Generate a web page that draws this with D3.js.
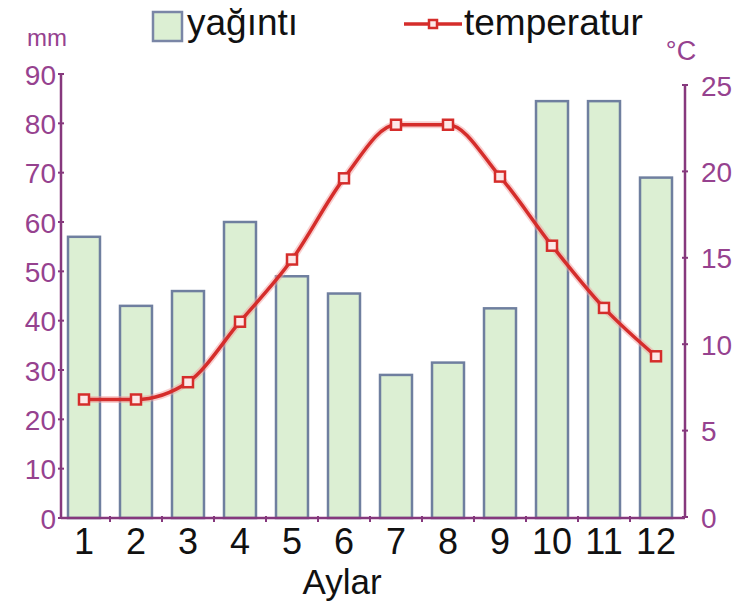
<!DOCTYPE html>
<html>
<head>
<meta charset="utf-8">
<script src="https://cdn.jsdelivr.net/npm/d3@7"></script>
<style>
  body { margin: 0; background: #fff; }
  text { font-family: "Liberation Sans", Arial, sans-serif; }
</style>
</head>
<body>
<div id="chart"></div>
<script>
// months, rainfall (mm) and temperature (°C)
var months = ["1","2","3","4","5","6","7","8","9","10","11","12"];
var rain = [57, 43, 46, 60, 49, 45.5, 29, 31.5, 42.5, 84.5, 84.5, 69];
var temp = [6.8, 6.8, 7.8, 11.3, 14.9, 19.6, 22.7, 22.7, 19.7, 15.7, 12.1, 9.3];
var rainTicks = [0,10,20,30,40,50,60,70,80,90];
var tempTicks = [0,5,10,15,20,25];

var W = 740, H = 607;
var purple = "#86387d", purpleText = "#96428f";

var svg = d3.select("#chart").append("svg")
    .attr("width", W)
    .attr("height", H);

// scales
var x = d3.scaleBand()
    .domain(months)
    .range([68, 672])
    .paddingInner(0.385)
    .paddingOuter(0);
var yRain = d3.scaleLinear().domain([0, 90]).range([518, 74]);
var yTemp = d3.scaleLinear().domain([0, 25]).range([517, 85]);

// bars
svg.append("g").selectAll("rect")
    .data(rain)
    .enter()
    .append("rect")
    .attr("x", (d, i) => x(months[i]))
    .attr("y", d => yRain(d))
    .attr("width", x.bandwidth())
    .attr("height", d => yRain(0) - yRain(d))
    .attr("fill", "#dcefd3")
    .attr("stroke", "#6f7f9f")
    .attr("stroke-width", 2.5);

// left axis
var leftAxis = svg.append("g")
    .attr("transform", "translate(61,0)")
    .call(d3.axisLeft(yRain).tickValues(rainTicks).tickSize(0).tickPadding(5));
leftAxis.select(".domain").remove();
leftAxis.selectAll("text")
    .attr("fill", purpleText)
    .attr("font-size", 28)
    .attr("dy", "0.36em");
svg.append("line")
    .attr("x1", 61).attr("x2", 61)
    .attr("y1", yRain(90)).attr("y2", yRain(0))
    .attr("stroke", purple).attr("stroke-width", 2.5);
svg.append("g").selectAll("line")
    .data(rainTicks)
    .enter()
    .append("line")
    .attr("x1", 58).attr("x2", 64)
    .attr("y1", d => yRain(d)).attr("y2", d => yRain(d))
    .attr("stroke", purple).attr("stroke-width", 2);

// right axis
var rightAxis = svg.append("g")
    .attr("transform", "translate(685,0)")
    .call(d3.axisRight(yTemp).tickValues(tempTicks).tickSize(0).tickPadding(16));
rightAxis.select(".domain").remove();
rightAxis.selectAll("text")
    .attr("fill", purpleText)
    .attr("font-size", 28)
    .attr("dy", "0.36em");
svg.append("line")
    .attr("x1", 685).attr("x2", 685)
    .attr("y1", yTemp(25)).attr("y2", yTemp(0))
    .attr("stroke", purple).attr("stroke-width", 2.5);
svg.append("g").selectAll("line")
    .data(tempTicks)
    .enter()
    .append("line")
    .attr("x1", 682).attr("x2", 688)
    .attr("y1", d => yTemp(d)).attr("y2", d => yTemp(d))
    .attr("stroke", purple).attr("stroke-width", 2);

// bottom axis
svg.append("line")
    .attr("x1", 61).attr("x2", 685)
    .attr("y1", 518).attr("y2", 518)
    .attr("stroke", purple).attr("stroke-width", 2.5);
svg.append("g").selectAll("line")
    .data(months.slice(1))
    .enter()
    .append("line")
    .attr("x1", d => x(d) - x.step() * x.paddingInner() / 2)
    .attr("x2", d => x(d) - x.step() * x.paddingInner() / 2)
    .attr("y1", 516).attr("y2", 522)
    .attr("stroke", purple).attr("stroke-width", 2);
var bottomAxis = svg.append("g")
    .attr("transform", "translate(0,518)")
    .call(d3.axisBottom(x).tickSize(0).tickPadding(10));
bottomAxis.select(".domain").remove();
bottomAxis.selectAll("text")
    .attr("fill", "#111")
    .attr("font-size", 36);

svg.append("text")
    .attr("x", 342).attr("y", 594)
    .attr("text-anchor", "middle")
    .attr("font-size", 35)
    .attr("fill", "#111")
    .text("Aylar");

// unit labels
svg.append("text")
    .attr("x", 47).attr("y", 46)
    .attr("text-anchor", "middle")
    .attr("font-size", 24)
    .attr("fill", purpleText)
    .text("mm");
svg.append("text")
    .attr("x", 681).attr("y", 60)
    .attr("text-anchor", "middle")
    .attr("font-size", 27)
    .attr("fill", purpleText)
    .text("°C");

// temperature line
var line = d3.line()
    .x((d, i) => x(months[i]) + x.bandwidth() / 2)
    .y(d => yTemp(d))
    .curve(d3.curveMonotoneX);
svg.append("path")
    .datum(temp)
    .attr("d", line)
    .attr("fill", "none")
    .attr("stroke", "#f2a0a0")
    .attr("stroke-opacity", 0.5)
    .attr("stroke-width", 7);
svg.append("path")
    .datum(temp)
    .attr("d", line)
    .attr("fill", "none")
    .attr("stroke", "#d52d2b")
    .attr("stroke-width", 3.5);
svg.append("g").selectAll("rect")
    .data(temp)
    .enter()
    .append("rect")
    .attr("x", (d, i) => x(months[i]) + x.bandwidth() / 2 - 5)
    .attr("y", d => yTemp(d) - 5)
    .attr("width", 10)
    .attr("height", 10)
    .attr("fill", "#fde8e8")
    .attr("stroke", "#d52d2b")
    .attr("stroke-width", 2.5);

// legend
svg.append("rect")
    .attr("x", 153).attr("y", 12)
    .attr("width", 29).attr("height", 29)
    .attr("fill", "#dcefd3")
    .attr("stroke", "#7a86a6")
    .attr("stroke-width", 2.5);
svg.append("text")
    .attr("x", 187).attr("y", 35)
    .attr("font-size", 37)
    .attr("fill", "#111")
    .text("yağıntı");
svg.append("line")
    .attr("x1", 404).attr("x2", 462)
    .attr("y1", 24).attr("y2", 24)
    .attr("stroke", "#d52d2b").attr("stroke-width", 3.5);
svg.append("rect")
    .attr("x", 429).attr("y", 20)
    .attr("width", 8).attr("height", 8)
    .attr("fill", "#fde8e8")
    .attr("stroke", "#d52d2b")
    .attr("stroke-width", 2.5);
svg.append("text")
    .attr("x", 464).attr("y", 35)
    .attr("font-size", 37)
    .attr("fill", "#111")
    .text("temperatur");
</script>
</body>
</html>
